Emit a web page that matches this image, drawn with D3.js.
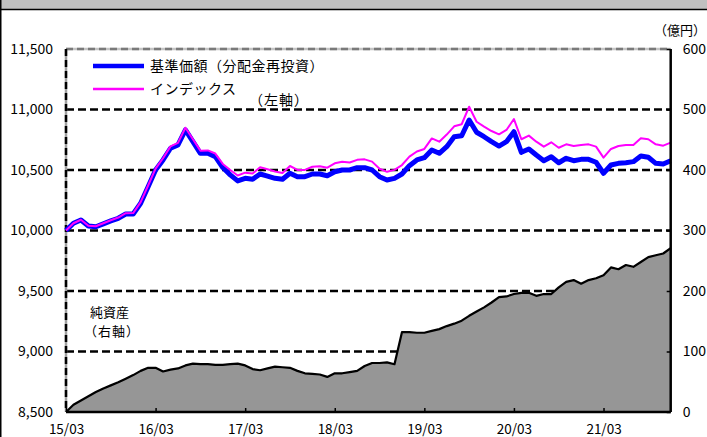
<!DOCTYPE html>
<html>
<head>
<meta charset="utf-8">
<script src="https://cdn.jsdelivr.net/npm/d3@7"></script>
<style>
  body { margin: 0; background: #fff; }
  svg { display: block; }
  text { font-family: "Noto Sans CJK JP", "Noto Sans", sans-serif; fill: #000; }
</style>
</head>
<body>
<svg id="chart" width="707" height="437"></svg>
<script>
// Month-end observations (YY/MM)
const months = [
  "15/03","15/04","15/05","15/06","15/07","15/08","15/09","15/10","15/11","15/12",
  "16/01","16/02","16/03","16/04","16/05","16/06","16/07","16/08","16/09","16/10","16/11","16/12",
  "17/01","17/02","17/03","17/04","17/05","17/06","17/07","17/08","17/09","17/10","17/11","17/12",
  "18/01","18/02","18/03","18/04","18/05","18/06","18/07","18/08","18/09","18/10","18/11","18/12",
  "19/01","19/02","19/03","19/04","19/05","19/06","19/07","19/08","19/09","19/10","19/11","19/12",
  "20/01","20/02","20/03","20/04","20/05","20/06","20/07","20/08","20/09","20/10","20/11","20/12",
  "21/01","21/02","21/03","21/04","21/05","21/06","21/07","21/08","21/09","21/10","21/11","21/12"
];

// 基準価額（分配金再投資）, left axis
const navReinvested = [
  10000,10060,10087,10037,10031,10055,10079,10101,10136,10136,
  10225,10362,10500,10583,10680,10707,10831,10734,10638,10638,10610,10520,
  10460,10410,10431,10423,10467,10450,10431,10423,10473,10445,10445,10467,
  10467,10453,10486,10500,10500,10519,10519,10500,10445,10417,10431,10467,
  10536,10583,10602,10665,10638,10693,10775,10783,10913,10812,10775,10734,
  10698,10734,10817,10646,10674,10624,10577,10610,10560,10597,10577,10588,
  10588,10564,10473,10541,10555,10560,10569,10616,10605,10555,10550,10577
];

// インデックス, left axis
const indexValues = [
  10000,10060,10089,10040,10035,10060,10085,10107,10143,10144,
  10234,10372,10512,10597,10695,10724,10849,10754,10660,10662,10636,10550,
  10500,10455,10478,10471,10522,10506,10487,10475,10533,10501,10501,10527,
  10531,10519,10555,10569,10562,10584,10588,10569,10510,10485,10501,10541,
  10610,10653,10674,10761,10734,10793,10861,10878,11023,10899,10858,10822,
  10795,10831,10921,10754,10784,10734,10693,10729,10684,10712,10698,10707,
  10712,10693,10602,10674,10698,10707,10707,10762,10754,10712,10701,10726
];

// 純資産 (億円), right axis
const netAssets = [
  0,12,19,26,33,39,44,49,55,61,
  68,73,73,67,70,72,77,80,79,79,78,78,
  79,80,77,71,69,72,75,74,73,68,64,63,
  62,58,64,64,66,68,76,81,81,82,79,132,
  132,131,131,134,137,142,146,151,159,166,173,181,
  190,191,195,197,197,192,195,195,206,215,218,212,
  218,221,226,239,236,243,240,248,256,259,262,271
];

const xTickLabels = ["15/03","16/03","17/03","18/03","19/03","20/03","21/03"];
const leftTicks = [8500, 9000, 9500, 10000, 10500, 11000, 11500];
const rightTicks = [0, 100, 200, 300, 400, 500, 600];
const gridTicks = [9000, 9500, 10000, 10500, 11000];

const svg = d3.select("#chart");
const W = 707, H = 437;
const plot = { left: 66, right: 670.7, top: 49, bottom: 412 };

const x = d3.scalePoint().domain(months).range([plot.left, plot.right]);
const yL = d3.scaleLinear().domain([8500, 11500]).range([plot.bottom, plot.top]);
const yR = d3.scaleLinear().domain([0, 600]).range([plot.bottom, plot.top]);

// Frame: grey header band and left edge
svg.append("rect").attr("x", 0).attr("y", 0).attr("width", W).attr("height", 9)
  .attr("fill", "#c0c0c0");
svg.append("line").attr("x1", 0).attr("x2", W).attr("y1", 9.5).attr("y2", 9.5)
  .attr("stroke", "#000").attr("stroke-width", 1.5);
svg.append("line").attr("x1", 0.75).attr("x2", 0.75).attr("y1", 0).attr("y2", H)
  .attr("stroke", "#000").attr("stroke-width", 1.5);

// Dashed horizontal gridlines
svg.append("g").selectAll("line").data(gridTicks).join("line")
  .attr("x1", plot.left).attr("x2", plot.right)
  .attr("y1", d => yL(d)).attr("y2", d => yL(d))
  .attr("stroke", "#000").attr("stroke-width", 2.5).attr("stroke-dasharray", "8,4");

// Top border (grey dashed) and left border (black dashes over grey)
svg.append("line").attr("x1", plot.left).attr("x2", plot.right)
  .attr("y1", plot.top).attr("y2", plot.top)
  .attr("stroke", "#c4c4c4").attr("stroke-width", 2.5);
svg.append("line").attr("x1", plot.left).attr("x2", plot.right)
  .attr("y1", plot.top).attr("y2", plot.top)
  .attr("stroke", "#7a7a7a").attr("stroke-width", 2.5).attr("stroke-dasharray", "7,4");
svg.append("line").attr("x1", plot.left).attr("x2", plot.left)
  .attr("y1", plot.top).attr("y2", plot.bottom)
  .attr("stroke", "#a0a0a0").attr("stroke-width", 2.5);
svg.append("line").attr("x1", plot.left).attr("x2", plot.left)
  .attr("y1", plot.top).attr("y2", plot.bottom)
  .attr("stroke", "#000").attr("stroke-width", 2.5).attr("stroke-dasharray", "7,4");

// Net assets area (right axis)
const area = d3.area().x((d, i) => x(months[i])).y0(yR(0)).y1(d => yR(d));
const topLine = d3.line().x((d, i) => x(months[i])).y(d => yR(d));
svg.append("path").datum(netAssets).attr("d", area).attr("fill", "#969696");
svg.append("path").datum(netAssets).attr("d", topLine)
  .attr("fill", "none").attr("stroke", "#000").attr("stroke-width", 2.2)
  .attr("stroke-linejoin", "round");

// Price lines (left axis)
const priceLine = d3.line().x((d, i) => x(months[i])).y(d => yL(d));
svg.append("path").datum(navReinvested).attr("d", priceLine)
  .attr("fill", "none").attr("stroke", "#0000ff").attr("stroke-width", 5)
  .attr("stroke-linejoin", "round");
svg.append("path").datum(indexValues).attr("d", priceLine)
  .attr("fill", "none").attr("stroke", "#ff00ff").attr("stroke-width", 2)
  .attr("stroke-linejoin", "round");

// Axes
const fontSize = "14px";
const gLeft = svg.append("g").attr("transform", `translate(${plot.left},0)`)
  .call(d3.axisLeft(yL).tickValues(leftTicks).tickFormat(d3.format(",")).tickSize(0).tickPadding(13));
gLeft.select(".domain").remove();

const gRight = svg.append("g").attr("transform", `translate(${plot.right},0)`)
  .call(d3.axisRight(yR).tickValues(rightTicks).tickSizeInner(-4).tickSizeOuter(0).tickPadding(12));
gRight.select(".domain").attr("stroke", "#000").attr("stroke-width", 2.5)
  .attr("d", `M0,${plot.top}V${plot.bottom}`);
gRight.selectAll(".tick line").attr("stroke", "#000").attr("stroke-width", 1.5);

const gBottom = svg.append("g").attr("transform", `translate(0,${plot.bottom})`)
  .call(d3.axisBottom(x).tickValues(xTickLabels).tickSizeInner(-4).tickSizeOuter(0).tickPadding(12));
gBottom.select(".domain").attr("stroke", "#000").attr("stroke-width", 2.5)
  .attr("d", `M${plot.left},0H${plot.right}`);
gBottom.selectAll(".tick line").attr("stroke", "#000").attr("stroke-width", 1.5);

svg.selectAll(".tick text").attr("font-size", fontSize)
  .attr("font-family", "\"Noto Sans CJK JP\", sans-serif").attr("fill", "#000");
gBottom.selectAll(".tick text").attr("font-size", "13.5px");

// Unit label for right axis
svg.append("text").attr("x", 706).attr("y", 30).attr("dy", "0.35em")
  .attr("text-anchor", "end").attr("font-size", "13px").text("（億円）");

// Legend
const legend = [
  { label: "基準価額（分配金再投資）", color: "#0000ff", width: 4.5, y: 66 },
  { label: "インデックス", color: "#ff00ff", width: 2.5, y: 89 }
];
const lg = svg.append("g");
lg.selectAll("line").data(legend).join("line")
  .attr("x1", 93).attr("x2", 144).attr("y1", d => d.y).attr("y2", d => d.y)
  .attr("stroke", d => d.color).attr("stroke-width", d => d.width);
lg.selectAll("text").data(legend).join("text")
  .attr("x", 150).attr("y", d => d.y).attr("dy", "0.35em")
  .attr("font-size", fontSize).attr("letter-spacing", "0.5px").text(d => d.label);

svg.append("text").attr("x", 249).attr("y", 100).attr("dy", "0.35em")
  .attr("font-size", fontSize).attr("letter-spacing", "1px").text("（左軸）");
svg.append("text").attr("x", 90).attr("y", 312).attr("dy", "0.35em")
  .attr("font-size", "13px").text("純資産");
svg.append("text").attr("x", 84).attr("y", 331).attr("dy", "0.35em")
  .attr("font-size", "13px").attr("letter-spacing", "1px").text("（右軸）");
</script>
</body>
</html>
